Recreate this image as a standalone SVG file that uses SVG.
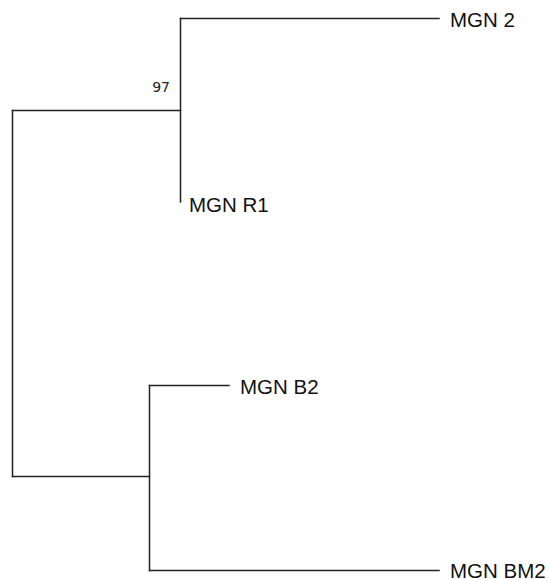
<svg xmlns="http://www.w3.org/2000/svg" width="549" height="580" viewBox="0 0 549 580">
<style>
.br{fill:none;stroke:#222;stroke-width:1.5;stroke-linecap:square}
.lb{font-family:"Liberation Sans",Arial,sans-serif;font-size:20.5px;fill:#111}
.bs{font-family:"DejaVu Sans",sans-serif;font-size:14px;fill:#222}
</style>
<rect width="549" height="580" fill="#fff"/>
<g id="connectors">
<path class="br" d="M12.5,110.5 V476.5"/>
<path class="br" d="M12.5,110.5 H180.5"/>
<path class="br" d="M12.5,476.5 H149.5"/>
<path class="br" d="M180.5,18.5 V202"/>
<path class="br" d="M180.5,18.5 H439"/>
<path class="br" d="M149.5,385.5 V570.5"/>
<path class="br" d="M149.5,385.5 H229"/>
<path class="br" d="M149.5,570.5 H439"/>
</g>
<g id="node-97"><text class="bs" x="170" y="91.5" text-anchor="end">97</text></g>
<g id="node-mgn2"><text class="lb" x="450" y="26.5">MGN 2</text></g>
<g id="node-mgnr1"><text class="lb" x="189" y="211.5">MGN R1</text></g>
<g id="node-mgnb2"><text class="lb" x="240" y="393.5">MGN B2</text></g>
<g id="node-mgnbm2"><text class="lb" x="450" y="578">MGN BM2</text></g>
</svg>
